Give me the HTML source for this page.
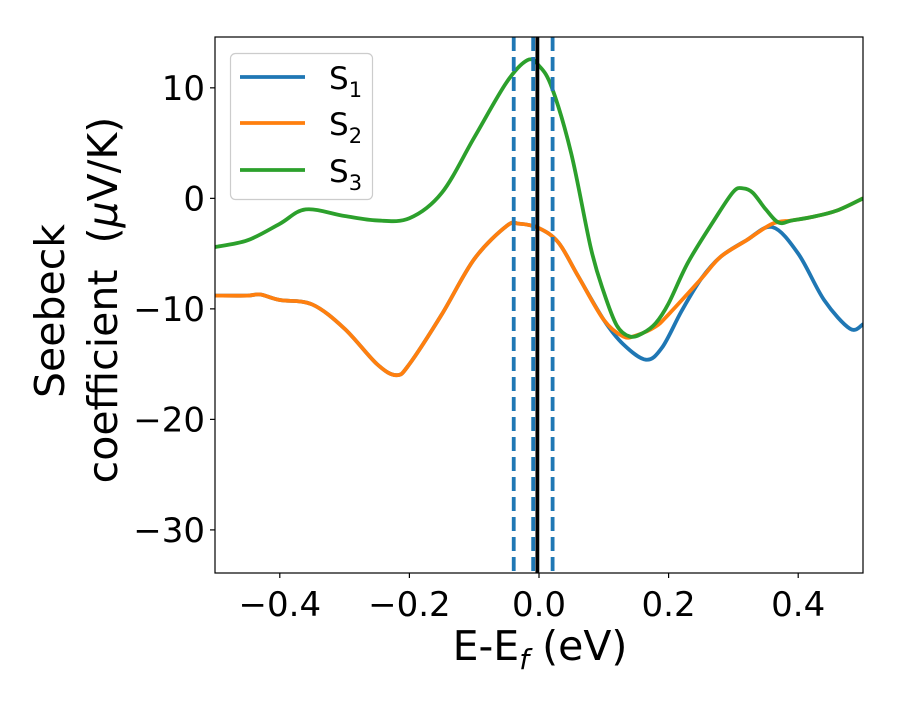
<!DOCTYPE html>
<html><head><meta charset="utf-8"><style>
body{margin:0;background:#fff;}
svg text{font-family:"DejaVu Sans","Liberation Sans",sans-serif;fill:#000;}
</style></head><body>
<svg id="chart" width="900" height="700">
<g id="plot"></g>
<g id="axes"></g>
<text x="540" y="660" font-size="41" text-anchor="middle">E-E<tspan font-size="28" font-style="italic" dy="9">f</tspan><tspan dy="-9"> (eV)</tspan></text>
<text transform="translate(64,311) rotate(-90)" font-size="41" text-anchor="middle">Seebeck</text>
<text transform="translate(117,300) rotate(-90)" font-size="41" text-anchor="middle" xml:space="preserve">coefficient  (<tspan font-style="italic">μ</tspan>V/K)</text>
<g>
<rect x="230.5" y="53.5" width="142" height="146" rx="5" fill="#fff" fill-opacity="0.8" stroke="#ccc" stroke-width="1.2"/>
<line x1="240" x2="305" y1="77" y2="77" stroke="#1f77b4" stroke-width="3.8"/>
<text x="329" y="89" font-size="31">S<tspan font-size="21" dy="8">1</tspan></text>
<line x1="240" x2="305" y1="123" y2="123" stroke="#ff7f0e" stroke-width="3.8"/>
<text x="329" y="135" font-size="31">S<tspan font-size="21" dy="8">2</tspan></text>
<line x1="240" x2="305" y1="170" y2="170" stroke="#2ca02c" stroke-width="3.8"/>
<text x="329" y="182" font-size="31">S<tspan font-size="21" dy="8">3</tspan></text>
</g>
</svg>
<script>
const xS3=[-0.5,-0.45,-0.4,-0.36,-0.3,-0.25,-0.2,-0.15,-0.1,-0.05,-0.018,0.0,0.02,0.05,0.08,0.1,0.12,0.14,0.16,0.18,0.2,0.23,0.27,0.3,0.315,0.33,0.35,0.37,0.39,0.42,0.46,0.5];
const yS3=[-4.4,-3.8,-2.3,-1.0,-1.6,-2.0,-1.8,0.5,5.5,10.5,12.5,12.0,10,4,-4.5,-8.5,-11.5,-12.5,-12.2,-11.3,-9.5,-5.8,-2,0.6,0.9,0.5,-1.0,-2.2,-2.0,-1.7,-1.1,0.0];
const xS2=[-0.5,-0.45,-0.43,-0.4,-0.35,-0.3,-0.25,-0.22,-0.2,-0.15,-0.1,-0.05,-0.03,0,0.03,0.06,0.1,0.13,0.15,0.18,0.2,0.25,0.28,0.32,0.36,0.39,0.42,0.46,0.5];
const yS2=[-8.8,-8.8,-8.7,-9.2,-9.6,-11.8,-15,-16,-15,-10.5,-5.5,-2.5,-2.3,-2.7,-4,-7,-11,-12.5,-12.4,-11.6,-10.5,-7.3,-5.3,-3.8,-2.3,-2.0,-1.7,-1.1,0];
const xS1=[-0.5,-0.45,-0.43,-0.4,-0.35,-0.3,-0.25,-0.22,-0.2,-0.15,-0.1,-0.05,-0.03,0,0.03,0.06,0.1,0.13,0.165,0.19,0.22,0.25,0.28,0.32,0.36,0.4,0.44,0.48,0.5];
const yS1=[-8.8,-8.8,-8.7,-9.2,-9.6,-11.8,-15,-16,-15,-10.5,-5.5,-2.5,-2.3,-2.7,-4,-7,-11,-13.2,-14.6,-13.5,-10.2,-7.3,-5.3,-3.8,-2.6,-5,-9.2,-11.8,-11.4];
const dashedX=[-0.039,-0.009,0.021];
const fermiX=-0.0025;
const xTicks=[-0.4,-0.2,0.0,0.2,0.4];
const xTickLabels=["\u22120.4","\u22120.2","0.0","0.2","0.4"];
const yTicks=[10,0,-10,-20,-30];
const yTickLabels=["10","0","\u221210","\u221220","\u221230"];
const L=215,R=863,T=37,B=573;
const xmin=-0.5,xmax=0.5,ymin=-33.9,ymax=14.6;
const sx=v=>L+(v-xmin)/(xmax-xmin)*(R-L);
const sy=v=>B-(v-ymin)/(ymax-ymin)*(B-T);
const NS="http://www.w3.org/2000/svg";
function mk(tag,attrs,parent){const e=document.createElementNS(NS,tag);for(const k in attrs)e.setAttribute(k,attrs[k]);parent.appendChild(e);return e;}
function path(xs,ys){const p=xs.map((x,i)=>[sx(x),sy(ys[i])]);let d="M"+p[0][0]+","+p[0][1];
for(let i=0;i<p.length-1;i++){const p0=p[Math.max(0,i-1)],p1=p[i],p2=p[i+1],p3=p[Math.min(p.length-1,i+2)];
const c1=[p1[0]+(p2[0]-p0[0])/6,p1[1]+(p2[1]-p0[1])/6],c2=[p2[0]-(p3[0]-p1[0])/6,p2[1]-(p3[1]-p1[1])/6];
d+=" C"+c1+" "+c2+" "+p2;}return d;}
const plot=document.getElementById('plot'),axes=document.getElementById('axes');
const cp=mk('clipPath',{id:'clip'},plot);
mk('rect',{x:L,y:T,width:R-L,height:B-T},cp);
const g=mk('g',{'clip-path':'url(#clip)'},plot);
const series=[[xS1,yS1,'#1f77b4','series-s1'],[xS2,yS2,'#ff7f0e','series-s2'],[xS3,yS3,'#2ca02c','series-s3']];
series.forEach(s=>{const e=mk('path',{d:path(s[0],s[1]),fill:'none',stroke:s[2],'stroke-width':3.8},g);

});
dashedX.forEach((v,i)=>{const e=mk('line',{x1:sx(v),x2:sx(v),y1:T,y2:B,stroke:'#1f77b4','stroke-width':3.8,'stroke-dasharray':'14,6'},g);

});
const fl=mk('line',{x1:sx(fermiX),x2:sx(fermiX),y1:T,y2:B,stroke:'#000','stroke-width':3.8},g);


const fr=mk('rect',{x:L,y:T,width:R-L,height:B-T,fill:'none',stroke:'#000','stroke-width':1.2},axes);


xTicks.forEach((v,i)=>{mk('line',{x1:sx(v),x2:sx(v),y1:B,y2:B+5,stroke:'#000','stroke-width':1.2},axes);
const t=mk('text',{x:sx(v),y:B+43,'font-size':34,'text-anchor':'middle'},axes);t.textContent=xTickLabels[i];

});
yTicks.forEach((v,i)=>{mk('line',{x1:L-5,x2:L,y1:sy(v),y2:sy(v),stroke:'#000','stroke-width':1.2},axes);
const t=mk('text',{x:L-10,y:sy(v)+12,'font-size':34,'text-anchor':'end'},axes);t.textContent=yTickLabels[i];

});
</script>
</body></html>
